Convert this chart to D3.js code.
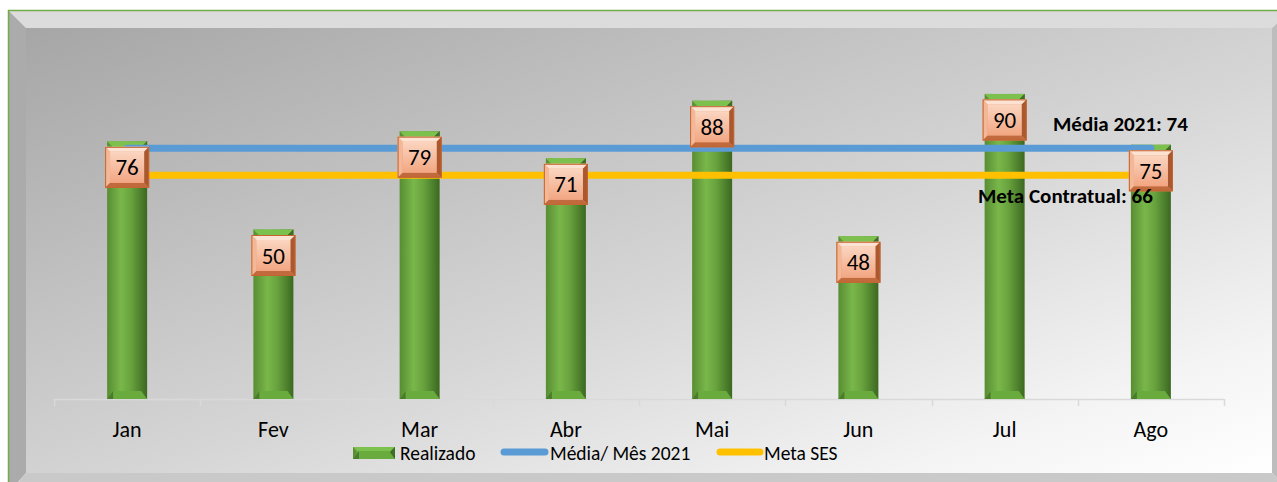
<!doctype html>
<html lang="pt">
<head>
<meta charset="utf-8">
<title>Realizado 2021</title>
<script src="https://cdn.jsdelivr.net/npm/d3@7"></script>
<style>
  html, body { margin: 0; padding: 0; background: #fff; }
  svg { display: block; font-family: Calibri, Carlito, "Liberation Sans", sans-serif; }
</style>
</head>
<body>
<svg id="chart" width="1277" height="482"></svg>
<script>
  //
  // Data
  //
  var months = ['Jan', 'Fev', 'Mar', 'Abr', 'Mai', 'Jun', 'Jul', 'Ago']
  var realizado = [76, 50, 79, 71, 88, 48, 90, 75]
  var mediaMes = [74, 74, 74, 74, 74, 74, 74, 74]
  var metaSes = [66, 66, 66, 66, 66, 66, 66, 66]
  var legendNames = ['Realizado', 'Média/ Mês 2021', 'Meta SES']
  var mediaLabel = 'Média 2021: 74'
  var metaLabel = 'Meta Contratual: 66'

  //
  // Config
  //
  var fontFamily = 'Calibri, Carlito, "Liberation Sans", sans-serif'
  var colorMedia = '#5b9bd5'
  var colorMeta = '#ffc000'
  var plot = { left: 54, right: 1224, top: 60, bottom: 399 }

  var svg = d3.select('#chart')
  var defs = svg.append('defs')

  // gradients
  var bg = defs.append('linearGradient').attr('id', 'bg')
    .attr('x1', '0').attr('y1', '0').attr('x2', '1').attr('y2', '1')
  bg.append('stop').attr('offset', '0').attr('stop-color', '#a6a6a6')
  bg.append('stop').attr('offset', '0.55').attr('stop-color', '#d6d6d6')
  bg.append('stop').attr('offset', '0.85').attr('stop-color', '#f4f4f4')
  bg.append('stop').attr('offset', '1').attr('stop-color', '#ffffff')

  var barGrad = defs.append('linearGradient').attr('id', 'barGrad')
    .attr('x1', '0').attr('y1', '0').attr('x2', '1').attr('y2', '0')
  barGrad.append('stop').attr('offset', '0').attr('stop-color', '#588d33')
  barGrad.append('stop').attr('offset', '0.35').attr('stop-color', '#79b74a')
  barGrad.append('stop').attr('offset', '0.6').attr('stop-color', '#68a23d')
  barGrad.append('stop').attr('offset', '1').attr('stop-color', '#3b6821')

  var boxGrad = defs.append('linearGradient').attr('id', 'boxGrad')
    .attr('x1', '0').attr('y1', '0').attr('x2', '0').attr('y2', '1')
  boxGrad.append('stop').attr('offset', '0').attr('stop-color', '#fbd5c0')
  boxGrad.append('stop').attr('offset', '1').attr('stop-color', '#f2a682')

  //
  // Frame
  //
  var fx0 = 9, fy0 = 11, fx1 = 1290, fy1 = 492, bw = 17
  var ix0 = fx0 + bw, iy0 = fy0 + bw, ix1 = 1272, iy1 = 473
  svg.append('rect').attr('x', ix0).attr('y', iy0)
    .attr('width', ix1 - ix0).attr('height', iy1 - iy0).attr('fill', 'url(#bg)')
  // bevels: top, left, right, bottom
  svg.append('polygon').attr('fill', '#dcdcdc')
    .attr('points', [[fx0, fy0], [fx1, fy0], [ix1, iy0], [ix0, iy0]].join(' '))
  svg.append('polygon').attr('fill', '#ababab')
    .attr('points', [[fx0, fy0], [ix0, iy0], [ix0, iy1], [fx0, fy1]].join(' '))
  svg.append('polygon').attr('fill', '#bdbdbd')
    .attr('points', [[fx1, fy0], [ix1, iy0], [ix1, iy1], [fx1, fy1]].join(' '))
  svg.append('polygon').attr('fill', '#c9c9c9')
    .attr('points', [[fx0, fy1], [ix0, iy1], [ix1, iy1], [fx1, fy1]].join(' '))
  svg.append('line').attr('x1', 8).attr('x2', 1277).attr('y1', 10.5).attr('y2', 10.5)
    .attr('stroke', '#70ad47').attr('stroke-width', 1.5)
  svg.append('line').attr('x1', 8.5).attr('x2', 8.5).attr('y1', 10).attr('y2', 482)
    .attr('stroke', '#70ad47').attr('stroke-width', 1.5)

  //
  // Scales
  //
  var x = d3.scaleBand().domain(months).range([plot.left, plot.right])
  var y = d3.scaleLinear().domain([0, 100]).range([plot.bottom, plot.top])
  var barW = 40

  // axis
  var axis = svg.append('g').attr('transform', 'translate(0,' + plot.bottom + ')')
    .call(d3.axisBottom(x).tickSize(0).tickPadding(0))
    .attr('font-family', fontFamily)
  axis.select('.domain').remove()
  axis.selectAll('text').remove()
  axis.append('line').attr('x1', plot.left).attr('x2', plot.right)
    .attr('y1', 0.5).attr('y2', 0.5).attr('stroke', '#d9d9d9').attr('stroke-width', 1.5)
  var bounds = months.map(function (m) { return x(m) }).concat([plot.right])
  axis.selectAll('line.tk').data(bounds).enter().append('line').attr('class', 'tk')
    .attr('x1', function (d) { return Math.round(d) + 0.5 })
    .attr('x2', function (d) { return Math.round(d) + 0.5 })
    .attr('y1', 0).attr('y2', 7).attr('stroke', '#d9d9d9').attr('stroke-width', 1.5)
  axis.selectAll('text.lbl').data(months).enter().append('text').attr('class', 'lbl')
    .attr('x', function (d) { return x(d) + x.bandwidth() / 2 })
    .attr('y', 38).attr('text-anchor', 'middle')
    .attr('font-size', 22).attr('fill', '#000').text(function (d) { return d })

  //
  // Bars
  //
  function drawBar(g, bx, top, w, h) {
    var bot = top + h
    var b = Math.min(6, w / 6)
    g.append('rect').attr('x', bx).attr('y', top).attr('width', w).attr('height', h)
      .attr('fill', 'url(#barGrad)')
    g.append('polygon').attr('fill', '#7cc04e')
      .attr('points', [[bx, top], [bx + w, top], [bx + w - b, top + b], [bx + b, top + b]].join(' '))
    g.append('polygon').attr('fill', '#3f6f24')
      .attr('points', [[bx + w, top], [bx + w, top + b + 2], [bx + w - b, top + b]].join(' '))
    g.append('polygon').attr('fill', '#6aab3e')
      .attr('points', [[bx, bot], [bx + w, bot], [bx + w - b, bot - b - 2], [bx + b, bot - b - 2]].join(' '))
    g.append('polygon').attr('fill', '#4a7c2b')
      .attr('points', [[bx, bot], [bx + b, bot - b - 2], [bx + b, bot]].join(' '))
  }

  var bars = svg.append('g')
  realizado.forEach(function (v, i) {
    var cx = x(months[i]) + x.bandwidth() / 2
    drawBar(bars, cx - barW / 2, y(v), barW, y(0) - y(v))
  })

  //
  // Lines
  //
  function cxOf(d, i) { return x(months[i]) + x.bandwidth() / 2 }
  var line = d3.line().x(cxOf).y(function (d) { return y(d) })
  svg.append('path').datum(mediaMes).attr('d', line).attr('fill', 'none')
    .attr('stroke', colorMedia).attr('stroke-width', 7).attr('stroke-linecap', 'round')
  svg.append('path').datum(metaSes).attr('d', line).attr('fill', 'none')
    .attr('stroke', colorMeta).attr('stroke-width', 7).attr('stroke-linecap', 'round')

  //
  // Data labels
  //
  var boxW = 44, boxH = 41, bv = 5
  var labels = svg.append('g')
  realizado.forEach(function (v, i) {
    var cx = cxOf(v, i), cy = y(v) + 26
    var x0 = cx - boxW / 2, y0 = cy - boxH / 2, x1 = x0 + boxW, y1 = y0 + boxH
    var g = labels.append('g')
    g.append('rect').attr('x', x0).attr('y', y0).attr('width', boxW).attr('height', boxH)
      .attr('fill', '#e99a70')
    g.append('polygon').attr('fill', '#fce2d3')
      .attr('points', [[x0, y0], [x1, y0], [x1 - bv, y0 + bv], [x0 + bv, y0 + bv]].join(' '))
    g.append('polygon').attr('fill', '#f3b897')
      .attr('points', [[x0, y0], [x0 + bv, y0 + bv], [x0 + bv, y1 - bv], [x0, y1]].join(' '))
    g.append('polygon').attr('fill', '#a9582f')
      .attr('points', [[x1, y0], [x1 - bv, y0 + bv], [x1 - bv, y1 - bv], [x1, y1]].join(' '))
    g.append('polygon').attr('fill', '#c06a3d')
      .attr('points', [[x0, y1], [x0 + bv, y1 - bv], [x1 - bv, y1 - bv], [x1, y1]].join(' '))
    g.append('rect').attr('x', x0 + bv).attr('y', y0 + bv)
      .attr('width', boxW - 2 * bv).attr('height', boxH - 2 * bv).attr('fill', 'url(#boxGrad)')
    g.append('rect').attr('x', x0 + 0.5).attr('y', y0 + 0.5)
      .attr('width', boxW - 1).attr('height', boxH - 1)
      .attr('fill', 'none').attr('stroke', '#c5642f').attr('stroke-width', 1)
    g.append('text').attr('x', cx).attr('y', cy + 8).attr('text-anchor', 'middle')
      .attr('font-size', 23).attr('fill', '#000').text(v)
  })

  //
  // Annotations
  //
  svg.append('text').attr('x', 1053).attr('y', 131).attr('font-size', 21)
    .attr('font-weight', 'bold').attr('fill', '#000').text(mediaLabel)
  svg.append('text').attr('x', 978).attr('y', 203).attr('font-size', 21)
    .attr('font-weight', 'bold').attr('fill', '#000').text(metaLabel)

  //
  // Legend
  //
  var leg = svg.append('g')
  drawBar(leg, 353, 447, 42, 12)
  leg.append('text').attr('x', 400).attr('y', 460).attr('font-size', 19.5).text(legendNames[0])
  leg.append('line').attr('x1', 504).attr('x2', 545).attr('y1', 452).attr('y2', 452)
    .attr('stroke', colorMedia).attr('stroke-width', 7).attr('stroke-linecap', 'round')
  leg.append('text').attr('x', 550).attr('y', 460).attr('font-size', 19.5).text(legendNames[1])
  leg.append('line').attr('x1', 720).attr('x2', 760).attr('y1', 452).attr('y2', 452)
    .attr('stroke', colorMeta).attr('stroke-width', 7).attr('stroke-linecap', 'round')
  leg.append('text').attr('x', 764).attr('y', 460).attr('font-size', 19.5).text(legendNames[2])
</script>
</body>
</html>
